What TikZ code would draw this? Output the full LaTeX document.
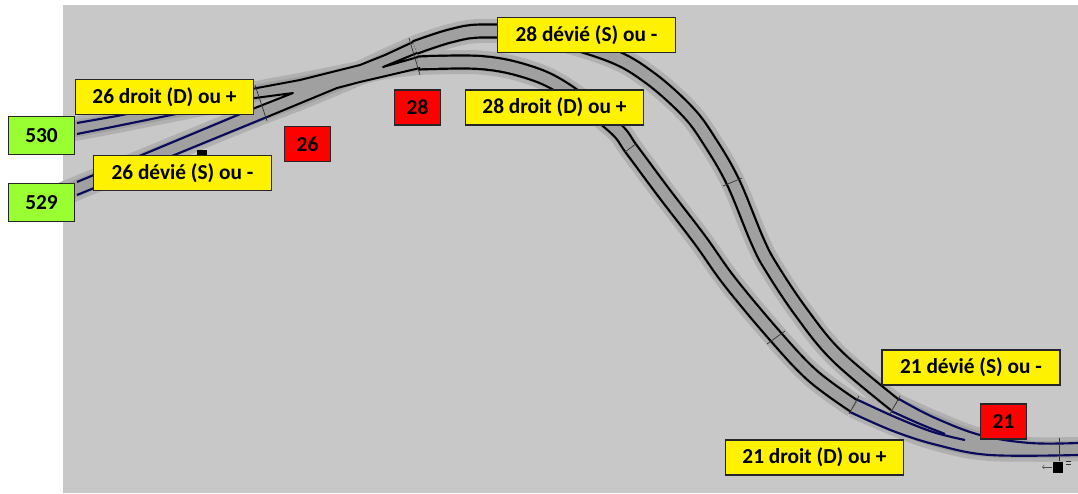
\documentclass[tikz,border=0pt]{standalone}
\usepackage{fontspec}
\setmainfont{Carlito}
\usepackage{xcolor}
\definecolor{fond}{RGB}{200,200,200}
\definecolor{halo}{RGB}{176,176,176}
\definecolor{ballast}{RGB}{160,160,160}
\definecolor{marine}{RGB}{10,10,90}
\definecolor{vert}{RGB}{153,255,51}
\tikzstyle{etiquette} = [rectangle, draw = black!85, line width = 1.2pt, inner sep = 0pt, text = black, font = \fontsize{16}{18}\selectfont\bfseries]
\tikzstyle{sens} = [etiquette, fill = yellow, minimum width = 133.5pt, minimum height = 26.5pt]
\tikzstyle{aiguille} = [etiquette, fill = red, minimum width = 34.5pt, minimum height = 26.5pt]
\tikzstyle{canton} = [etiquette, fill = vert, minimum width = 49.5pt, minimum height = 28.5pt]
\tikzstyle{halotrack} = [draw = halo, line width = 18pt, line join = round]
\tikzstyle{bedtrack} = [draw = ballast, line width = 12.5pt, line join = round]
\tikzstyle{rails} = [draw = black, line width = 1.65pt, double = ballast, double distance = 8.1pt, line join = round]
\tikzstyle{rail} = [draw = black, line width = 1.5pt, line join = round]
\tikzstyle{railbleu} = [draw = marine, line width = 1.6pt, line join = round]
\tikzstyle{coupure} = [draw = black!80, line width = 0.5pt]
\def\voieA{plot [smooth, tension = 0.6] coordinates {(63, 131) (117, 121) (257, 93) (300, 85) (360, 73)}}
\def\voieB{plot [smooth, tension = 0.6] coordinates {(63, 194) (233, 124) (300, 98) (360, 73)}}
\def\voieC{plot [smooth, tension = 0.6] coordinates {(360, 73) (385, 67) (418, 63)}}
\def\voieD{plot [smooth, tension = 0.6] coordinates {(360, 73) (385, 61) (415, 47.5)}}
\def\droit{plot [smooth, tension = 0.6] coordinates {(418, 63) (480, 62.5) (525, 71) (563, 88) (614, 127) (632, 150) (664, 193) (700, 240) (730, 282) (776, 337) (813, 376) (854, 406)}}
\def\devie{plot [smooth, tension = 0.6] coordinates {(415, 47.5) (450, 36) (482, 31) (540, 35) (610, 55) (650, 78) (688, 112) (710, 142) (733, 182) (757, 240) (771, 267) (801, 312) (837, 356) (895, 405)}}
\def\sortieD{plot [smooth, tension = 0.6] coordinates {(854, 406) (895, 424) (937, 439) (990, 449) (1078, 449)}}
\def\sortieS{plot [smooth, tension = 0.6] coordinates {(895, 405) (935, 423) (980, 440) (1030, 449) (1078, 449)}}

\begin{document}
\begin{tikzpicture}[x = 0.75pt, y = -0.75pt]
            \useasboundingbox (0, 0) rectangle (1078, 493);
            \fill [fond] (63, 5) rectangle (1078, 493);
            % ballast
            \foreach \voie in {\voieA, \voieB, \voieC, \voieD, \droit, \devie, \sortieD, \sortieS}
                \draw [halotrack] \voie;
            \foreach \voie in {\voieA, \voieB, \voieC, \voieD, \droit, \devie, \sortieD, \sortieS}
                \draw [bedtrack] \voie;
            % voies
            \draw [rails] \droit;
            \draw [rails] \devie;
            % aiguille 26
            \draw [railbleu] (77, 123) -- (117, 116) -- (257, 88);
            \draw [railbleu] (77, 134) -- (117, 126) -- (255, 98);
            \draw [railbleu] (77, 182) -- (233, 117) -- (255, 108);
            \draw [railbleu] (77, 195) -- (267, 117);
            \draw [rail] (257, 88) -- (300, 80) -- (360, 65) -- (385, 55) -- (413, 42);
            \draw [rail] (267, 117) -- (337, 88) -- (360, 82) -- (420, 68);
            \draw [rail] (255, 98) -- (293, 93) -- (255, 108);
            % aiguille 28
            \draw [rail] (418, 57) -- (383, 67) -- (417, 53);
            % aiguille 21
            \draw [railbleu] plot [smooth, tension = 0.6] coordinates {(850, 412) (893, 431) (937, 445) (990, 455) (1078, 455)};
            \draw [railbleu] plot [smooth, tension = 0.6] coordinates {(858, 400) (895, 417) (933, 432) (965, 440)};
            \draw [railbleu] plot [smooth, tension = 0.6] coordinates {(899, 399) (933, 417) (980, 435) (1030, 443) (1078, 443)};
            \draw [railbleu] plot [smooth, tension = 0.6] coordinates {(891, 411) (920, 424) (945, 434)};
            % coupures
            \draw [coupure] (255, 85) -- (267, 121);
            \draw [coupure] (409, 38) -- (420, 75);
            \draw [coupure] (625, 152) -- (637, 143);
            \draw [coupure] (723, 186) -- (742, 178);
            \draw [coupure] (767, 344) -- (785, 331);
            \draw [coupure] (849, 414) -- (859, 396);
            \draw [coupure] (890, 414) -- (900, 396);
            % signaux
            \fill [black] (197, 150) rectangle (207, 155);
            \draw [coupure] (1059, 438) -- (1059, 461);
            \fill [black] (1053, 462) rectangle (1063, 473);
            \draw [->, black!70, line width = 0.4pt] (1052, 467) -- (1042, 467);
            \draw [coupure] (1066, 461) -- (1071, 461);
            \draw [coupure] (1066, 464) -- (1071, 464);
            % etiquettes
            \node (d26) at (164.5, 97) [sens] {26 droit (D) ou +};
            \node (s26) at (182.5, 173) [sens] {26 dévié (S) ou -};
            \node (d28) at (554.5, 107.5) [sens] {28 droit (D) ou +};
            \node (s28) at (586.5, 35) [sens] {28 dévié (S) ou -};
            \node (s21) at (971, 367.5) [sens] {21 dévié (S) ou -};
            \node (d21) at (814.5, 457.5) [sens] {21 droit (D) ou +};
            \node (a26) at (307.5, 144) [aiguille] {26};
            \node (a28) at (417.5, 107.5) [aiguille] {28};
            \node (a21) at (1003.5, 421.5) [aiguille] {21};
            \node (c530) at (41.5, 135.5) [canton] {530};
            \node (c529) at (41.5, 202.5) [canton] {529};
        \end{tikzpicture}
\end{document}
